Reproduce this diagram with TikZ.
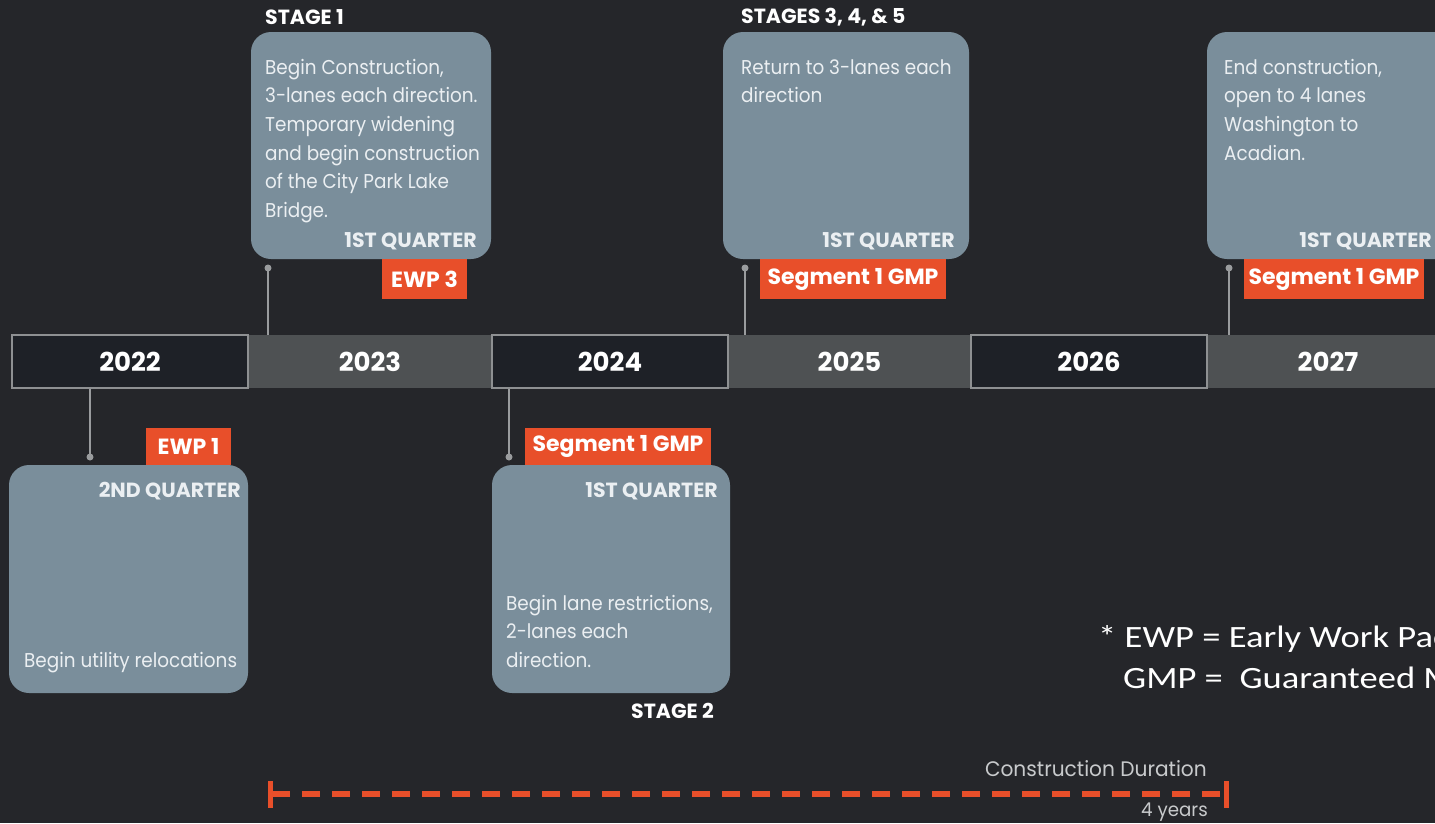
\documentclass[tikz,border=0pt]{standalone}
\usepackage{fontspec}
\newfontfamily\fut[FakeStretch=0.92]{Poppins}
\newfontfamily\futd[FakeStretch=0.96]{Poppins}
\newfontfamily\futh{Poppins}
\newfontfamily\yrf{Poppins}
\newfontfamily\legf[FakeStretch=1.18]{Carlito}
\definecolor{bgc}{HTML}{25262A}
\definecolor{boxc}{HTML}{7A8E9B}
\definecolor{boxtxt}{HTML}{EBEFF2}
\definecolor{orng}{HTML}{E84F2A}
\definecolor{graycell}{HTML}{4E5153}
\definecolor{darkcell}{HTML}{1E2127}
\definecolor{bordc}{HTML}{8E9092}
\definecolor{connc}{HTML}{9A9C9E}
\definecolor{durtxt}{HTML}{C8CACC}
\newcommand\bodytext[2]{\parbox[t]{#1}{\raggedright\fut\fontsize{20pt}{28.7pt}\selectfont #2}}
\begin{document}
\begin{tikzpicture}[x=1pt,y=-1pt,
  evbox/.style={fill=boxc, rounded corners=20pt, draw=none, inner sep=0pt},
  tagbox/.style={fill=orng, text=white, font=\futh\bfseries\fontsize{22pt}{25pt}\selectfont, inner sep=0pt},
  gcell/.style={fill=graycell, draw=none, text=white, font=\yrf\bfseries\fontsize{26pt}{30pt}\selectfont, minimum height=53pt, inner sep=0pt},
  dcell/.style={fill=darkcell, draw=bordc, line width=1.5pt, text=white, font=\yrf\bfseries\fontsize{26pt}{30pt}\selectfont, minimum height=53pt, inner sep=0pt},
  head/.style={text=white, font=\futh\bfseries\fontsize{20.5pt}{24pt}\selectfont, inner sep=0pt},
  quart/.style={text=boxtxt, font=\futh\bfseries\fontsize{20.5pt}{24pt}\selectfont, inner sep=0pt},
  body/.style={text=boxtxt, inner sep=0pt, anchor=base west},
  conn/.style={draw=connc, line width=1.5pt},
  dotc/.style={fill=connc},
  dur/.style={draw=orng, line width=6pt},
  durtick/.style={draw=orng, line width=5pt},
  legend/.style={text=white, font=\legf\fontsize{31pt}{37pt}\selectfont, inner sep=0pt}
]
\fill[bgc] (0,0) rectangle (1435,823);
\useasboundingbox (0,0) rectangle (1435,823);
\clip (0,0) rectangle (1435,823);

% timeline
\node[gcell, minimum width=244pt] (c2023) at (370,361.5) {\raisebox{-2.5pt}{2023}};
\node[gcell, minimum width=243pt] (c2025) at (849.5,361.5) {\raisebox{-2.5pt}{2025}};
\node[gcell, minimum width=242pt] (c2027) at (1328,361.5) {\raisebox{-2.5pt}{2027}};
\node[dcell, minimum width=236pt] (c2022) at (130,361.5) {\raisebox{-2.5pt}{2022}};
\node[dcell, minimum width=236pt] (c2024) at (610,361.5) {\raisebox{-2.5pt}{2024}};
\node[dcell, minimum width=236pt] (c2026) at (1089,361.5) {\raisebox{-2.5pt}{2026}};

% event boxes
\node[evbox, minimum width=240pt, minimum height=227pt] (b1) at (371,145.5) {};
\node[evbox, minimum width=246pt, minimum height=227pt] (b3) at (846,145.5) {};
\node[evbox, minimum width=253pt, minimum height=227pt] (b5) at (1333.5,145.5) {};
\node[evbox, minimum width=239pt, minimum height=228pt] (b2) at (128.5,579) {};
\node[evbox, minimum width=238pt, minimum height=228pt] (b4) at (611,579) {};

% tags
\node[tagbox, minimum width=85pt, minimum height=40pt] (t1) at (424.5,279) {\raisebox{-1pt}{EWP 3}};
\node[tagbox, minimum width=186pt, minimum height=40pt] (t3) at (853,279) {\raisebox{-1pt}{Segment 1 GMP}};
\node[tagbox, minimum width=180pt, minimum height=40pt] (t5) at (1334,279) {\raisebox{-1pt}{Segment 1 GMP}};
\node[tagbox, minimum width=85pt, minimum height=37pt] (t2) at (188.5,446.5) {\raisebox{-1pt}{EWP 1}};
\node[tagbox, minimum width=186pt, minimum height=37pt] (t4) at (618,446.5) {\raisebox{-1pt}{Segment 1 GMP}};

% connectors
\coordinate (p1) at (268,268);
\coordinate (p3) at (745,268);
\coordinate (p5) at (1229,268);
\coordinate (p2) at (90,457);
\coordinate (p4) at (509,457);
\draw[conn] (p1) -- (p1 |- c2023.north);
\draw[conn] (p3) -- (p3 |- c2025.north);
\draw[conn] (p5) -- (p5 |- c2027.north);
\draw[conn] (c2022.south -| p2) -- (p2);
\draw[conn] (c2024.south -| p4) -- (p4);
\foreach \p in {p1,p2,p3,p4,p5} \fill[dotc] (\p) circle (3.5pt);

% headings
\node[head, anchor=base west] (h1) at (265,24) {STAGE 1};
\node[head, anchor=base west] (h3) at (741,23) {STAGES 3, 4, \& 5};
\node[head, anchor=base east] (h4) at (714,718) {STAGE 2};

% quarters
\node[quart, anchor=base east] (q1) at (477,247) {1ST QUARTER};
\node[quart, anchor=base east] (q3) at (955,247) {1ST QUARTER};
\node[quart, anchor=base east] (q5) at (1432,247) {1ST QUARTER};
\node[quart, anchor=base east] (q2) at (241,497) {2ND QUARTER};
\node[quart, anchor=base east] (q4) at (718,497) {1ST QUARTER};

% body texts
\node[body] (x1) at (265,74) {\bodytext{230pt}{Begin Construction,\\3-lanes each direction.\\Temporary widening\\and begin construction\\of the City Park Lake\\Bridge.}};
\node[body] (x3) at (741,74) {\bodytext{230pt}{Return to 3-lanes each\\direction}};
\node[body] (x5) at (1224,74) {\bodytext{230pt}{End construction,\\open to 4 lanes\\Washington to\\Acadian.}};
\node[body] (x2) at (24,667) {\bodytext{230pt}{Begin utility relocations}};
\node[body] (x4) at (506,610) {\bodytext{230pt}{Begin lane restrictions,\\2-lanes each\\direction.}};

% legend
\node[legend, anchor=base west] (l1) at (1098,647) {* EWP = Early Work Pac};
\node[legend, anchor=base west] (l2) at (1123,688) {GMP =~ Guaranteed M};

% duration
\coordinate (ds) at (270,794);
\coordinate (de) at (1226,794);
\draw[dur, dash pattern=on 18pt off 12pt, dash phase=-2pt] (ds) -- (de);
\draw[durtick] ([yshift=-13.5pt]ds) -- ([yshift=13.5pt]ds);
\draw[durtick] ([yshift=-13.5pt]de) -- ([yshift=13.5pt]de);
\node[anchor=base east, inner sep=0pt, text=durtxt, font=\futd\fontsize{21pt}{25pt}\selectfont] (dl) at (1207,776) {Construction Duration};
\node[anchor=base east, inner sep=0pt, text=durtxt, font=\futd\fontsize{19pt}{22pt}\selectfont] (dy) at (1208,816) {4 years};
\end{tikzpicture}
\end{document}
